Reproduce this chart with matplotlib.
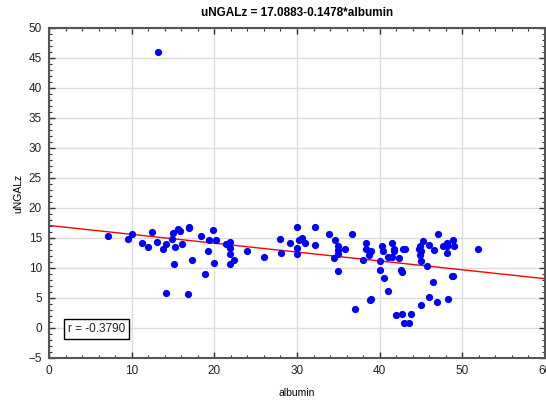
import matplotlib
matplotlib.use("Agg")
import matplotlib.pyplot as plt
from matplotlib.ticker import MultipleLocator
import numpy as np

plt.rcParams['font.family'] = ['Liberation Sans', 'DejaVu Sans']

# albumin vs uNGALz observations
albumin = [
    7.1, 9.6, 10.1, 11.3, 12.0, 12.4, 13.1, 13.2, 13.8, 14.2,
    14.9, 15.0, 15.3, 15.6, 15.9, 16.1, 16.9, 16.9, 15.1, 17.3,
    14.2, 16.8, 18.4, 19.8, 19.3, 20.2, 19.2, 20.0, 18.9,
    21.4, 21.9, 21.9, 21.9, 22.4, 21.9, 24.0, 26.0, 28.0, 28.1, 29.2,
    30.0, 30.3, 30.6, 31.0, 30.0, 30.0, 32.2, 32.2, 33.9, 34.6,
    35.0, 35.0, 35.0, 34.5, 35.8, 35.0, 36.6, 38.4, 38.3, 39.0,
    38.7, 38.0, 38.9, 38.8, 37.0,
    40.0, 40.3, 40.0, 40.5, 40.4, 41.5, 41.7, 41.7, 41.0, 41.5,
    42.3, 42.8, 43.1, 42.7, 42.6, 41.0, 45.2, 44.9, 44.7, 45.0,
    44.9, 45.0, 46.0, 46.6, 47.0, 45.7, 46.5, 47.7, 48.1, 48.1,
    48.9, 49.0, 48.1, 48.7, 48.9, 51.9, 46.0, 46.9, 48.3, 45.0,
    42.0, 42.7, 43.8, 43.0, 43.5,
]
ungalz = [
    15.4, 14.9, 15.6, 14.2, 13.5, 16.0, 14.4, 46.0, 13.2, 14.0,
    14.8, 15.8, 13.5, 16.5, 16.2, 14.0, 16.8, 16.6, 10.6, 11.3,
    5.8, 5.6, 15.4, 16.3, 14.6, 14.6, 12.9, 10.8, 9.0,
    14.0, 14.4, 13.4, 12.4, 11.3, 10.6, 12.9, 11.9, 14.8, 12.5, 14.1,
    16.8, 14.6, 15.0, 14.1, 13.3, 12.4, 16.9, 13.8, 15.7, 14.6,
    13.7, 13.0, 12.4, 11.6, 13.2, 9.5, 15.7, 14.1, 13.2, 12.8,
    12.1, 11.3, 4.9, 4.7, 3.2,
    11.1, 13.7, 9.7, 8.3, 12.8, 14.2, 13.1, 12.8, 11.8, 11.8,
    11.6, 13.1, 13.2, 9.4, 9.6, 6.2, 14.5, 13.6, 13.2, 12.8,
    12.1, 11.2, 13.8, 13.0, 15.6, 10.4, 7.7, 13.7, 14.1, 13.6,
    14.7, 13.7, 12.5, 8.6, 8.6, 13.2, 5.2, 4.3, 4.9, 3.8,
    2.2, 2.4, 2.3, 0.8, 0.8,
]

# fitted regression: uNGALz = 17.0883 - 0.1478*albumin
intercept = 17.0883
slope = -0.1478
r_value = -0.3790

fig = plt.figure(figsize=(5.46, 4.01), dpi=100)
ax = fig.add_axes([49 / 546, 1 - 358 / 401, 496 / 546, 330 / 401])

ax.set_xlim(0, 60)
ax.set_ylim(-5, 50)
ax.xaxis.set_major_locator(MultipleLocator(10))
ax.xaxis.set_minor_locator(MultipleLocator(2))
ax.yaxis.set_major_locator(MultipleLocator(5))
ax.yaxis.set_minor_locator(MultipleLocator(1))

ax.grid(True, which='major', color='#dcdcdc', linewidth=1.0, zorder=0)
ax.set_axisbelow(True)

xs = np.array([0, 60])
ax.plot(xs, intercept + slope * xs, color='#ff0000', linewidth=1.0, zorder=2)
ax.plot(albumin, ungalz, linestyle='none', marker='o', markersize=5.2,
        color='#0000ff', markeredgewidth=0, zorder=3)

for s in ax.spines.values():
    s.set_color('#555555')
    s.set_linewidth(1.5)

ax.tick_params(which='both', direction='in', top=True, right=True,
               color='#333333', labelsize=8.5, labelcolor='#222222')
ax.tick_params(which='major', length=4, width=1, pad=5)
ax.tick_params(which='minor', length=2, width=0.8)

ax.set_title('uNGALz = 17.0883-0.1478*albumin', fontsize=8.5,
             fontweight='bold', pad=9)
ax.set_xlabel('albumin', fontsize=7.5, labelpad=8)
ax.set_ylabel('uNGALz', fontsize=7.5, labelpad=4)

ax.text(2.3, -0.2, f'r = {r_value:.4f}', fontsize=8.5, ha='left', va='center',
        color='#222222',
        bbox=dict(boxstyle='square,pad=0.35', facecolor='white',
                  edgecolor='black', linewidth=1.0), zorder=4)

fig.savefig('out.png', dpi=100)
